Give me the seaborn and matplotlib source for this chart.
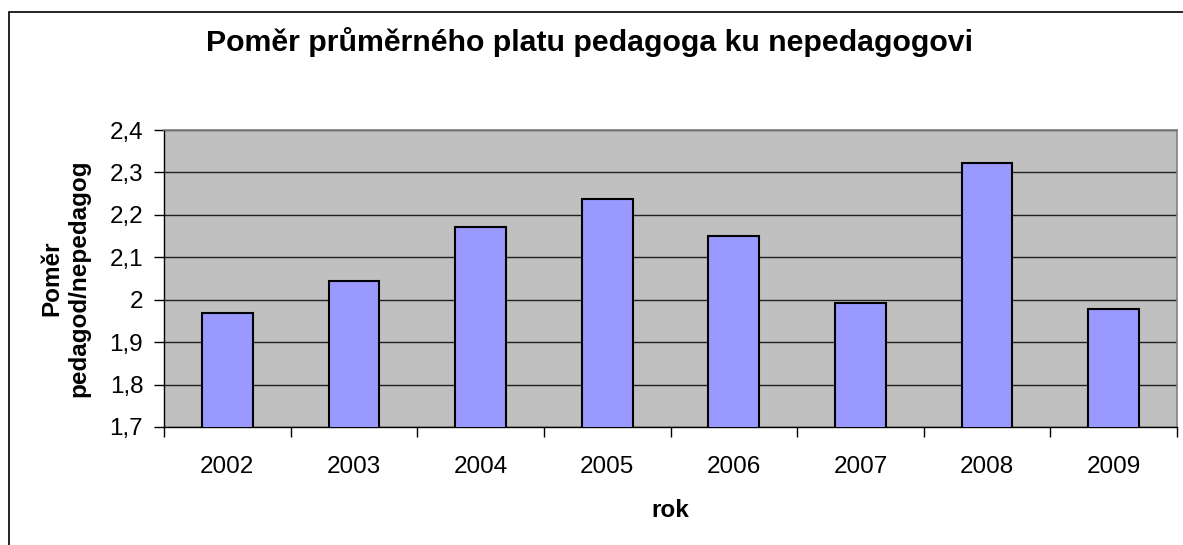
import seaborn as sns
import matplotlib.pyplot as plt
import pandas as pd
from matplotlib.patches import Rectangle
from matplotlib.ticker import FixedLocator, FuncFormatter

roky = ["2002", "2003", "2004", "2005", "2006", "2007", "2008", "2009"]
pomer = [1.969, 2.043, 2.172, 2.237, 2.149, 1.993, 2.322, 1.977]
y_ticks = [1.7, 1.8, 1.9, 2.0, 2.1, 2.2, 2.3, 2.4]


def main():
    sns.set_style("white")
    plt.rcParams["font.family"] = ["Liberation Sans", "DejaVu Sans"]
    plt.rcParams["text.color"] = "black"
    plt.rcParams["axes.labelcolor"] = "black"
    plt.rcParams["xtick.color"] = "black"
    plt.rcParams["ytick.color"] = "black"

    df = pd.DataFrame({"rok": roky, "pomer": pomer})

    fig = plt.figure(figsize=(11.83, 5.45), dpi=100)
    ax = fig.add_axes([164 / 1183, 1 - 427 / 545, 1013 / 1183, 297 / 545])
    ax.set_facecolor("#C0C0C0")

    sns.barplot(data=df, x="rok", y="pomer", color="#9999FF",
                saturation=1, width=0.4, edgecolor="black",
                linewidth=1.5, ax=ax, zorder=3)

    ax.set_ylim(1.7, 2.4)
    ax.set_xlim(-0.5, len(roky) - 0.5)
    ax.set_yticks(y_ticks)
    ax.yaxis.set_major_formatter(
        FuncFormatter(lambda v, p: ("%g" % round(v, 2)).replace(".", ",")))
    ax.grid(axis="y", color="#202020", linewidth=1, zorder=1)
    ax.set_axisbelow(True)

    ax.xaxis.set_minor_locator(FixedLocator(
        [i - 0.5 for i in range(len(roky) + 1)]))
    ax.tick_params(axis="x", which="major", length=0, pad=21, labelsize=17.5)
    ax.tick_params(axis="x", which="minor", length=7, width=1,
                   direction="out", color="black", bottom=True)
    ax.tick_params(axis="y", length=7, width=1, direction="out",
                   color="black", left=True, pad=8, labelsize=17.5)

    for side in ["top", "right"]:
        ax.spines[side].set_color("#808080")
        ax.spines[side].set_linewidth(1.2)
    for side in ["left", "bottom"]:
        ax.spines[side].set_color("black")
        ax.spines[side].set_linewidth(1)

    ax.set_xlabel("rok", fontsize=17.5, fontweight="bold", labelpad=15)
    ax.set_ylabel("Poměr\npedagod/nepedagog", fontsize=17.5,
                  fontweight="bold", labelpad=14, linespacing=1.2)

    fig.text(590 / 1183, 1 - 42 / 545,
             "Poměr průměrného platu pedagoga ku nepedagogovi",
             ha="center", va="center", fontsize=21.8, fontweight="bold")

    fig.patches.append(Rectangle((9 / 1183, -0.1), 2, 1.1 - 12 / 545,
                                 transform=fig.transFigure, fill=False,
                                 edgecolor="black", linewidth=1.2))

    plt.savefig("out.png", dpi=100)


if __name__ == "__main__":
    main()
